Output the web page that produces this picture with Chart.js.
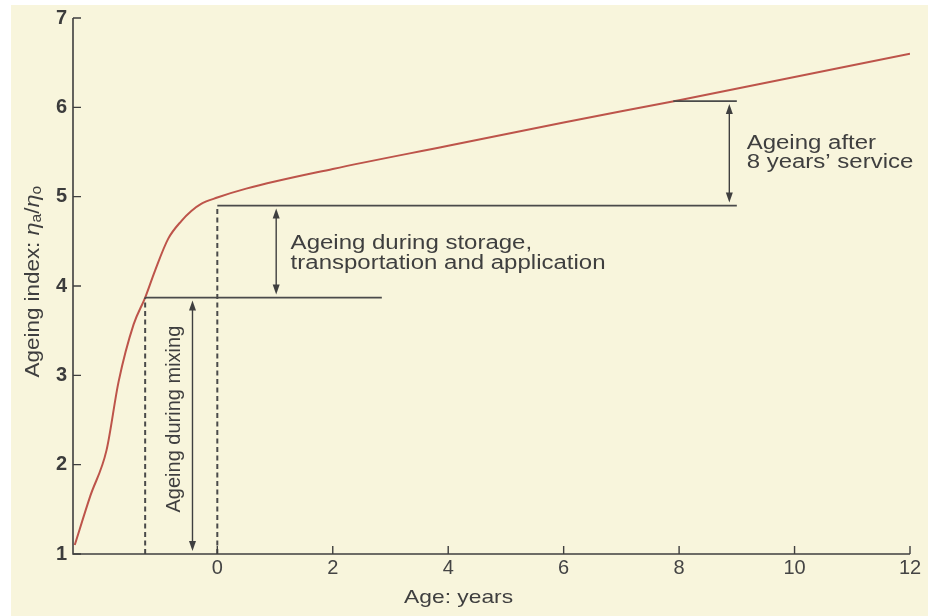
<!DOCTYPE html>
<html>
<head>
<meta charset="utf-8">
<script src="https://cdn.jsdelivr.net/npm/chart.js@4.4.1/dist/chart.umd.min.js"></script>
<style>
html,body{margin:0;padding:0;background:#fff;}
#wrap{width:928px;height:616px;position:relative;}
</style>
</head>
<body>
<div id="wrap"><canvas id="c" width="928" height="616"></canvas></div>
<script>
// ---- data ----
const xTicks = [0, 2, 4, 6, 8, 10, 12];
const yTicks = [1, 2, 3, 4, 5, 6, 7];
const curveX = [-2.47, -2.2, -1.92, -1.71, -1.45, -1.25, -1.08, -0.85, -0.62, -0.45, -0.28, 0, 0.5, 2, 4, 6, 8, 10, 12];
const curveY = [1.1, 1.65, 2.16, 2.93, 3.57, 3.87, 4.17, 4.53, 4.73, 4.84, 4.92, 4.99, 5.09, 5.31, 5.57, 5.83, 6.08, 6.34, 6.6];
const mixingLevel = [[-1.25, 3.87], [2.85, 3.87]];
const storageLevel = [[0, 4.9], [9.0, 4.9]];
const serviceLevel = [[7.9, 6.07], [9.0, 6.07]];
const mixingStart = [[-1.25, 1], [-1.25, 3.87]];
const serviceStart = [[0, 1], [0, 4.9]];
const arrowX = [-0.43, 1.02, 8.87];
const arrowFrom = [1, 3.87, 4.9];
const arrowTo = [3.87, 4.9, 6.07];
const noteLines = ["Ageing during storage,", "transportation and application", "Ageing after", "8 years\u2019 service"];
const noteX = [1.27, 1.27, 9.17, 9.17];
const noteY = [4.48, 4.25, 5.6, 5.38];
const mixingNote = "Ageing during mixing";
const mixingNotePos = [-0.74, 2.51];
const xTitle = "Age: years";

const toPts = (xs, ys) => xs.map((x, i) => ({x: x, y: ys[i]}));
const seg = a => a.map(p => ({x: p[0], y: p[1]}));

const INK = '#3f3f3f';
const FONT = '"Liberation Sans", Arial, sans-serif';

const bgPlugin = {
  id: 'bg',
  beforeDraw(chart) {
    const ctx = chart.ctx;
    ctx.save();
    ctx.fillStyle = '#ffffff';
    ctx.fillRect(0, 0, chart.width, chart.height);
    ctx.fillStyle = '#f8f5dc';
    ctx.fillRect(11, 5, chart.width - 11, chart.height - 5);
    ctx.restore();
  }
};

function arrowHead(ctx, x, y, dir) {
  ctx.beginPath();
  ctx.moveTo(x, y);
  ctx.lineTo(x - 3.5, y + dir * 10);
  ctx.lineTo(x + 3.5, y + dir * 10);
  ctx.closePath();
  ctx.fill();
}

function stretchedText(ctx, t, x, y, sx, align) {
  ctx.save();
  ctx.translate(x, y);
  ctx.scale(sx, 1);
  ctx.textAlign = align;
  ctx.fillText(t, 0, 0);
  ctx.restore();
}

const annoPlugin = {
  id: 'anno',
  afterDatasetsDraw(chart) {
    const ctx = chart.ctx;
    const xs = chart.scales.x, ys = chart.scales.y;
    ctx.save();
    // axis lines
    ctx.strokeStyle = INK;
    ctx.lineWidth = 1.6;
    ctx.beginPath();
    ctx.moveTo(xs.left, ys.top);
    ctx.lineTo(xs.left, ys.bottom);
    ctx.lineTo(xs.right, ys.bottom);
    ctx.stroke();
    // inner ticks
    ctx.lineWidth = 1.4;
    ctx.beginPath();
    xTicks.forEach(v => {
      const px = xs.getPixelForValue(v);
      ctx.moveTo(px, ys.bottom);
      ctx.lineTo(px, ys.bottom - 8);
    });
    yTicks.forEach(v => {
      const py = ys.getPixelForValue(v);
      ctx.moveTo(xs.left, py);
      ctx.lineTo(xs.left + 8, py);
    });
    ctx.stroke();
    // arrows
    ctx.fillStyle = INK;
    ctx.lineWidth = 1.4;
    arrowX.forEach((ax, i) => {
      const px = xs.getPixelForValue(ax);
      const y0 = ys.getPixelForValue(arrowFrom[i]) - 3;
      const y1 = ys.getPixelForValue(arrowTo[i]) + 3;
      ctx.beginPath();
      ctx.moveTo(px, y0 - 8);
      ctx.lineTo(px, y1 + 8);
      ctx.stroke();
      arrowHead(ctx, px, y1, 1);
      arrowHead(ctx, px, y0, -1);
    });
    // notes
    ctx.fillStyle = INK;
    ctx.font = '20px ' + FONT;
    ctx.textBaseline = 'middle';
    noteLines.forEach((t, i) => {
      stretchedText(ctx, t, xs.getPixelForValue(noteX[i]), ys.getPixelForValue(noteY[i]), 1.2, 'left');
    });
    // rotated note
    ctx.save();
    ctx.translate(xs.getPixelForValue(mixingNotePos[0]), ys.getPixelForValue(mixingNotePos[1]));
    ctx.rotate(-Math.PI / 2);
    ctx.textAlign = 'center';
    ctx.font = '20px ' + FONT;
    ctx.fillText(mixingNote, 0, 0);
    ctx.restore();
    // x title
    ctx.font = '19px ' + FONT;
    stretchedText(ctx, xTitle, xs.getPixelForValue(4.18), 598, 1.2, 'center');
    // y title with subscripts
    ctx.save();
    ctx.translate(33, ys.getPixelForValue(4.05));
    ctx.rotate(-Math.PI / 2);
    ctx.scale(1.12, 1);
    const parts = [
      {t: 'Ageing index: ', f: '20px ' + FONT, dy: 0},
      {t: '\u03B7', f: 'italic 21px ' + FONT, dy: 0},
      {t: 'a', f: '14px ' + FONT, dy: 4},
      {t: '/', f: '20px ' + FONT, dy: 0},
      {t: '\u03B7', f: 'italic 21px ' + FONT, dy: 0},
      {t: 'o', f: '14px ' + FONT, dy: 4}
    ];
    let w = 0;
    parts.forEach(p => { ctx.font = p.f; p.w = ctx.measureText(p.t).width; w += p.w; });
    let cx = -w / 2;
    ctx.textAlign = 'left';
    parts.forEach(p => { ctx.font = p.f; ctx.fillText(p.t, cx, p.dy); cx += p.w; });
    ctx.restore();
    ctx.restore();
  }
};

const lineDs = (data, dash) => ({
  data: data, showLine: true, pointRadius: 0, borderColor: '#4a4a4a',
  borderWidth: dash ? 2 : 1.6, borderDash: dash ? [5, 3.5] : [], fill: false
});

new Chart(document.getElementById('c'), {
  type: 'scatter',
  data: {
    datasets: [
      lineDs(seg(mixingStart), true),
      lineDs(seg(serviceStart), true),
      lineDs(seg(mixingLevel), false),
      lineDs(seg(storageLevel), false),
      lineDs(seg(serviceLevel), false),
      {
        data: toPts(curveX, curveY), showLine: true, pointRadius: 0,
        borderColor: '#bd544a', borderWidth: 2, cubicInterpolationMode: 'monotone', fill: false
      }
    ]
  },
  options: {
    responsive: false,
    animation: false,
    layout: {padding: {top: 14, right: 18, left: 0, bottom: 0}},
    plugins: {legend: {display: false}, tooltip: {enabled: false}},
    scales: {
      x: {
        type: 'linear', min: -2.5, max: 12,
        afterFit: s => { s.height = 62; },
        afterBuildTicks: s => { s.ticks = xTicks.map(v => ({value: v})); },
        grid: {display: false, drawTicks: false, tickLength: 0},
        border: {display: false},
        ticks: {color: '#444', padding: 2, font: {family: FONT, size: 20}, maxRotation: 0}
      },
      y: {
        type: 'linear', min: 1, max: 7,
        afterFit: s => { s.width = 73; },
        afterBuildTicks: s => { s.ticks = yTicks.map(v => ({value: v})); },
        grid: {display: false, drawTicks: false, tickLength: 0},
        border: {display: false},
        ticks: {color: '#3c3c3c', padding: 6, font: {family: FONT, size: 20, weight: 'bold'}}
      }
    }
  },
  plugins: [bgPlugin, annoPlugin]
});
</script>
</body>
</html>
